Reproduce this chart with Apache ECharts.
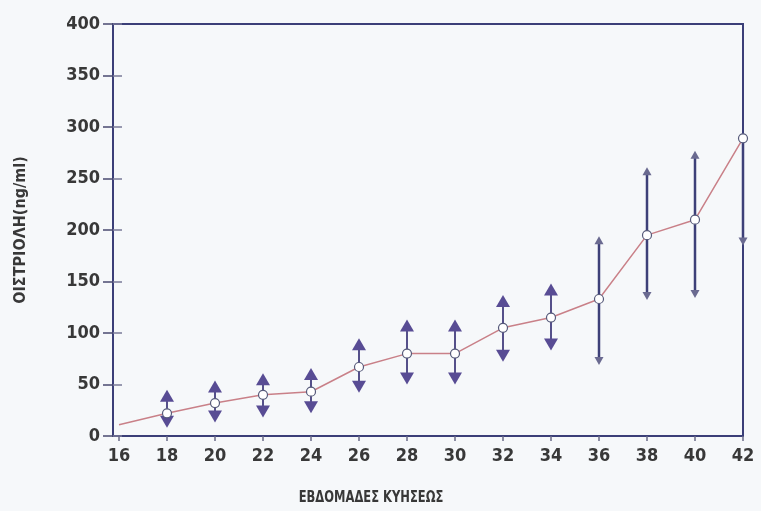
<!DOCTYPE html>
<html>
<head>
<meta charset="utf-8">
<script src="https://cdn.jsdelivr.net/npm/echarts@6/dist/echarts.min.js"></script>
<style>
html,body{margin:0;padding:0;background:#f6f8fa;}
#chart{width:761px;height:511px;}
</style>
</head>
<body>
<div id="chart"></div>
<script>
// Gestational week (x), mean estriol (ng/ml) and range limits
var weeks = [16, 18, 20, 22, 24, 26, 28, 30, 32, 34, 36, 38, 40, 42];
var meanValues = [11, 22, 32, 40, 43, 67, 80, 80, 105, 115, 133, 195, 210, 289];
var upperValues = [null, 45, 54, 61, 66, 95, 113, 113, 137, 148, 194, 261, 277, null];
var lowerValues = [null, 8, 13, 18, 22, 42, 50, 50, 72, 83, 69, 132, 134, 185];
var xTickLabels = [16, 18, 20, 22, 24, 26, 28, 30, 32, 34, 36, 38, 40, 42];
var yTickLabels = [0, 50, 100, 150, 200, 250, 300, 350, 400];
var xTitle = 'ΕΒΔΟΜΑΔΕΣ ΚΥΗΣΕΩΣ';
var yTitle = 'ΟΙΣΤΡΙΟΛΗ(ng/ml)';

var FONT = "'Liberation Sans Narrow', 'DejaVu Sans Condensed', 'Liberation Sans', sans-serif";
var NAVY = '#3b3f78';
var TEXT = '#383838';

var lineData = weeks.map(function (w, i) {
  var item = { value: [w, meanValues[i]] };
  if (i === 0) item.symbol = 'none';
  return item;
});
var rangeData = weeks.map(function (w, i) {
  return [w, meanValues[i], upperValues[i] == null ? '-' : upperValues[i], lowerValues[i] == null ? '-' : lowerValues[i]];
});

function renderRange(params, api) {
  var x = api.value(0), m = api.value(1), hi = api.value(2), lo = api.value(3);
  var p = api.coord([x, m]);
  var children = [];
  var hasHi = !isNaN(hi), hasLo = !isNaN(lo);
  var span = (hasHi ? hi : m) - (hasLo ? lo : m);
  var longBar = span > 100 || !hasHi;
  var shaftColor = longBar ? '#3d4078' : '#55508a';
  var headColor = longBar ? '#6a6a90' : '#584c94';
  var hw = longBar ? 4.5 : 7;
  var hh = longBar ? 8 : 12;
  var lw = longBar ? 2.5 : 2;
  function arrow(v, dir) {
    var t = api.coord([x, v]);
    children.push({
      type: 'line',
      shape: { x1: p[0], y1: p[1], x2: t[0], y2: t[1] + dir * (hh - 2) },
      style: { stroke: shaftColor, lineWidth: lw }
    });
    children.push({
      type: 'polygon',
      shape: { points: [[t[0], t[1]], [t[0] - hw, t[1] + dir * hh], [t[0] + hw, t[1] + dir * hh]] },
      style: { fill: headColor }
    });
  }
  if (hasHi) arrow(hi, 1);
  if (hasLo) arrow(lo, -1);
  return { type: 'group', children: children };
}

var chart = echarts.init(document.getElementById('chart'));
chart.setOption({
  backgroundColor: '#f6f8fa',
  animation: false,
  grid: {
    left: 113, right: 18, top: 24, bottom: 75,
    show: true, borderColor: NAVY, borderWidth: 2, backgroundColor: 'transparent'
  },
  graphic: [{
    type: 'text', x: 371, y: 498, scaleX: 0.8,
    style: { text: xTitle, font: 'bold 16px ' + FONT, fill: TEXT, align: 'center', verticalAlign: 'middle' }
  }],
  xAxis: {
    type: 'value', min: 15.75, max: 42,
    splitLine: { show: false },
    axisLine: { lineStyle: { color: NAVY, width: 2 } },
    axisTick: { show: true, customValues: xTickLabels, length: 5, lineStyle: { color: '#6a6a88', width: 1.5 } },
    axisLabel: { customValues: xTickLabels, margin: 11, color: TEXT, fontFamily: FONT, fontWeight: 'bold', fontSize: 18 }
  },
  yAxis: [{
    type: 'value', min: 0, max: 400,
    name: yTitle, nameLocation: 'middle', nameGap: 84,
    nameTextStyle: { color: TEXT, fontFamily: FONT, fontWeight: 'bold', fontSize: 16 },
    splitLine: { show: false },
    axisLine: { show: true, lineStyle: { color: NAVY, width: 2 } },
    axisTick: { show: true, customValues: yTickLabels, length: 10, lineStyle: { color: '#4a4a70', width: 1.5 } },
    axisLabel: { customValues: yTickLabels, margin: 13, color: TEXT, fontFamily: FONT, fontWeight: 'bold', fontSize: 18 }
  }, {
    type: 'value', min: 0, max: 400, position: 'left',
    splitLine: { show: false },
    axisLine: { show: false },
    axisLabel: { show: false },
    axisTick: { show: true, inside: true, customValues: yTickLabels, length: 9, lineStyle: { color: '#7a7a98', width: 1.5 } }
  }],
  series: [{
    type: 'custom',
    renderItem: renderRange,
    data: rangeData,
    encode: { x: 0, y: [1, 2, 3] },
    z: 2
  }, {
    type: 'line',
    data: lineData,
    symbol: 'circle', symbolSize: 9,
    lineStyle: { color: '#c98088', width: 1.5 },
    itemStyle: { color: '#ffffff', borderColor: '#565a7a', borderWidth: 1.2 },
    z: 3
  }]
});
</script>
</body>
</html>
